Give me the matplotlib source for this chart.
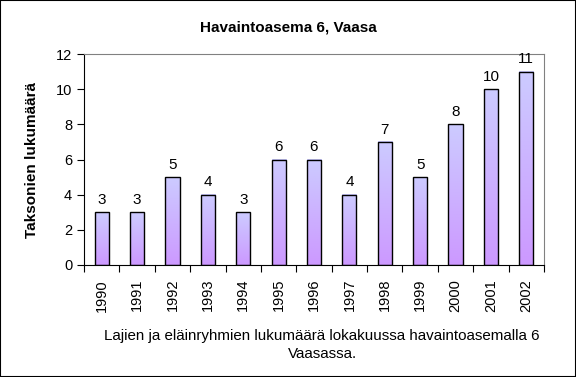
import numpy as np
import matplotlib
matplotlib.use('Agg')
import matplotlib.pyplot as plt
from matplotlib.colors import LinearSegmentedColormap

years = ['1990', '1991', '1992', '1993', '1994', '1995', '1996',
         '1997', '1998', '1999', '2000', '2001', '2002']
counts = [3, 3, 5, 4, 3, 6, 6, 4, 7, 5, 8, 10, 11]

title = 'Havaintoasema 6, Vaasa'
ylabel = 'Taksonien lukumäärä'
caption = 'Lajien ja eläinryhmien lukumäärä lokakuussa havaintoasemalla 6\nVaasassa.'

plt.rcParams['font.family'] = ['Liberation Sans', 'DejaVu Sans']

fig = plt.figure(figsize=(5.76, 3.77), dpi=100)
ax = fig.add_axes([84/576, 1-265/377, 460/576, 211/377])

# gradient fill: purple at the bottom to pale blue at the top
cmap = LinearSegmentedColormap.from_list('grad', ['#cc99ff', '#cccbff'])
grad = np.linspace(0, 1, 100).reshape(-1, 1)

x = np.arange(len(years))
w = 0.4
ax.bar(x, counts, width=w, facecolor='none', edgecolor='black', lw=1, zorder=3)
for xi, c in zip(x, counts):
    ax.imshow(grad, cmap=cmap, aspect='auto', origin='lower',
              extent=[xi - w/2, xi + w/2, 0, c], zorder=2)
    ax.text(xi, c + 0.3, str(c), ha='center', va='bottom', fontsize=11)

ax.set_xlim(-0.5, len(years) - 0.5)
ax.set_ylim(0, 12)
ax.set_yticks(range(0, 13, 2))
ax.set_xticks(np.arange(len(years) + 1) - 0.5)
ax.set_xticklabels([''] * (len(years) + 1))
ax.set_xticks(x, minor=True)
ax.set_xticklabels(years, minor=True, rotation=90, fontsize=10.5)
ax.tick_params(axis='x', which='minor', length=0, pad=10)
ax.tick_params(axis='x', which='major', direction='out', length=5)
ax.tick_params(axis='y', direction='out', length=5, labelsize=10.5)

for s in ['top', 'right']:
    ax.spines[s].set_color('#808080')

ax.set_ylabel(ylabel, fontsize=11, fontweight='bold', labelpad=12)
fig.text(288/576, 1-27/377, title, ha='center', va='center', fontsize=11, fontweight='bold')
fig.text(322/576, 1-345/377, caption, ha='center', va='center', fontsize=10.9, linespacing=1.3)

fig.patches.append(plt.Rectangle((0, 0), 1, 1, transform=fig.transFigure,
                                 fill=False, edgecolor='black', lw=1.5))

fig.savefig('out.png', dpi=100)
